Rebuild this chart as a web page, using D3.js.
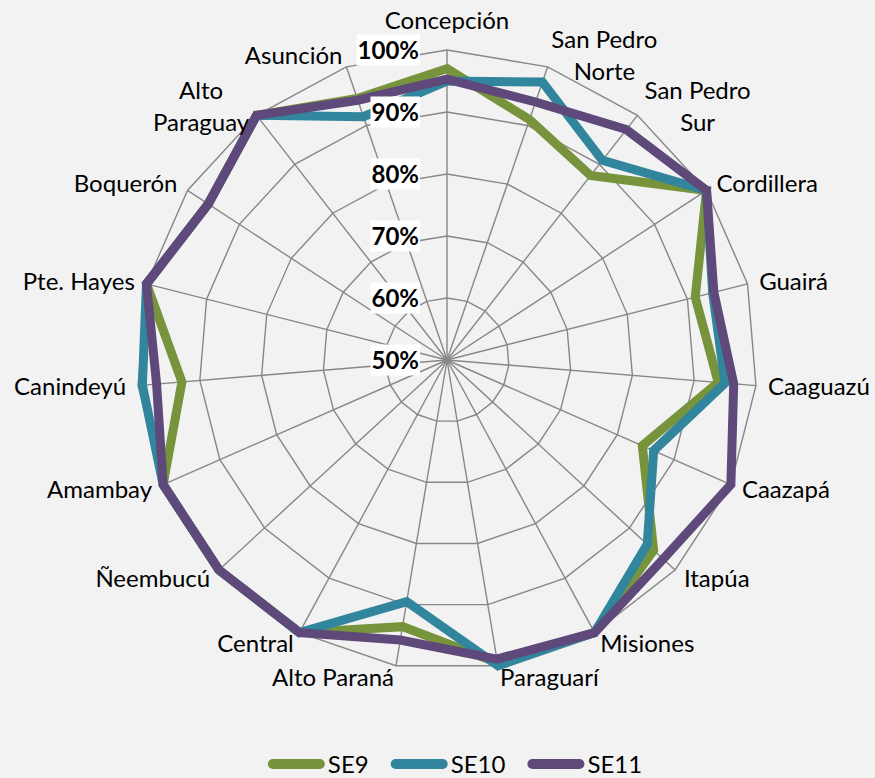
<!DOCTYPE html>
<html>
<head>
  <script src="https://d3js.org/d3.v7.min.js"></script>
  <style>
    body { margin: 0; background: #f2f2f2; }
    text { font-family: "Lato", sans-serif; fill: #000; }
    .cat-label { font-size: 24px; }
    .tick-label { font-size: 24px; font-weight: bold; }
    .legend-label { font-size: 24px; }
  </style>
</head>
<body>
  <script>
    const categories = ["Concepción", "San Pedro\nNorte", "San Pedro\nSur", "Cordillera", "Guairá",
      "Caaguazú", "Caazapá", "Itapúa", "Misiones", "Paraguarí", "Alto Paraná", "Central",
      "Ñeembucú", "Amambay", "Canindeyú", "Pte. Hayes", "Boquerón", "Alto\nParaguay", "Asunción"];
    const se9 = [97, 91, 87.7, 100, 91.3, 93.9, 84.4, 95.3, 100, 99.5, 93.6, 100, 100, 100, 92.9, 100, 96, 100, 94.6];
    const se10 = [95, 97.4, 90.8, 100, 94.2, 95.0, 86.4, 93.9, 100, 100, 89.5, 100, 100, 100, 99.3, 100, 96, 100, 91.5];
    const se11 = [95.3, 94, 97.1, 100, 94.4, 96.4, 100, 97.4, 100, 98.9, 95.8, 100, 100, 100, 97, 100, 96, 100, 94.3];
    const seriesNames = ["SE9", "SE10", "SE11"];
    const tickValues = [50, 60, 70, 80, 90, 100];
    const tickLabels = ["50%", "60%", "70%", "80%", "90%", "100%"];

    const width = 875;
    const height = 778;
    const cx = 447, cy = 360, R = 310;
    const colors = ["#77933C", "#31859C", "#5F497A"];
    const series = [se9, se10, se11];

    const svg = d3.select("body")
      .append("svg")
      .attr("width", width)
      .attr("height", height);

    svg.append("rect")
      .attr("width", width)
      .attr("height", height)
      .attr("fill", "#f2f2f2");

    const g = svg.append("g")
      .attr("transform", `translate(${cx},${cy})`);

    const r = d3.scaleLinear().domain([50, 100]).range([0, R]);
    const angle = d3.scaleLinear().domain([0, categories.length]).range([0, 2 * Math.PI]);

    // grid rings
    const ringLine = d3.lineRadial()
      .angle((d, i) => angle(i))
      .radius(d => r(d))
      .curve(d3.curveLinearClosed);

    g.selectAll(".ring")
      .data(tickValues.slice(1))
      .join("path")
      .attr("class", "ring")
      .attr("d", t => ringLine(categories.map(() => t)))
      .attr("fill", "none")
      .attr("stroke", "#878787")
      .attr("stroke-width", 1.4);

    // spokes
    g.selectAll(".spoke")
      .data(categories)
      .join("line")
      .attr("class", "spoke")
      .attr("x1", 0)
      .attr("y1", 0)
      .attr("x2", (d, i) => r(100) * Math.sin(angle(i)))
      .attr("y2", (d, i) => -r(100) * Math.cos(angle(i)))
      .attr("stroke", "#878787")
      .attr("stroke-width", 1.4);

    // series
    const seriesLine = d3.lineRadial()
      .angle((d, i) => angle(i))
      .radius(d => r(d))
      .curve(d3.curveLinearClosed);

    g.selectAll(".series")
      .data(series)
      .join("path")
      .attr("class", "series")
      .attr("d", d => seriesLine(d))
      .attr("fill", "none")
      .attr("stroke", (d, i) => colors[i])
      .attr("stroke-width", 9)
      .attr("stroke-linejoin", "miter");

    // category labels
    const lineH = 32;
    categories.forEach((name, i) => {
      const a = angle(i);
      const s = Math.sin(a), c = Math.cos(a);
      const side = Math.abs(s) > 0.05;
      const gap = side ? 12 : 14;
      const ax = (R + gap) * s;
      const ay = -(R + gap) * c;
      const lines = name.split("\n");
      const t = g.append("text").attr("class", "cat-label").attr("text-anchor", "middle");
      const spans = lines.map(l => t.append("tspan").text(l));
      const w = d3.max(spans, sp => sp.node().getComputedTextLength());
      const h = lines.length * lineH;
      let left, top;
      if (s > 0.05) left = ax;
      else if (s < -0.05) left = ax - w;
      else left = ax - w / 2;
      if (side) top = ay - h / 2;
      else if (c > 0) top = ay - h;
      else top = ay;
      spans.forEach((sp, k) => {
        sp.attr("x", left + w / 2)
          .attr("y", top + lineH / 2 + k * lineH + 8.6);
      });
    });

    // value axis labels
    tickValues.forEach((v, i) => {
      const y = -r(v);
      const t = g.append("text")
        .attr("class", "tick-label")
        .attr("text-anchor", "end")
        .attr("x", -28)
        .attr("y", y + 8.6)
        .text(tickLabels[i]);
      const bb = t.node().getBBox();
      g.insert("rect", () => t.node())
        .attr("x", bb.x - 1)
        .attr("y", y - 15.5)
        .attr("width", bb.width + 2)
        .attr("height", 31)
        .attr("fill", "#ffffff");
    });

    // legend
    const legendY = 764;
    const legend = svg.append("g");
    let x = 0;
    seriesNames.forEach((name, i) => {
      const item = legend.append("g").attr("transform", `translate(${x},0)`);
      item.append("line")
        .attr("x1", 5)
        .attr("x2", 52)
        .attr("y1", legendY)
        .attr("y2", legendY)
        .attr("stroke", colors[i])
        .attr("stroke-width", 10)
        .attr("stroke-linecap", "round");
      const t = item.append("text")
        .attr("class", "legend-label")
        .attr("x", 60)
        .attr("y", legendY + 8.6)
        .text(name);
      x += 60 + t.node().getComputedTextLength() + 22;
    });
    const legendW = x - 22;
    legend.attr("transform", `translate(${455 - legendW / 2},0)`);
  </script>
</body>
</html>
